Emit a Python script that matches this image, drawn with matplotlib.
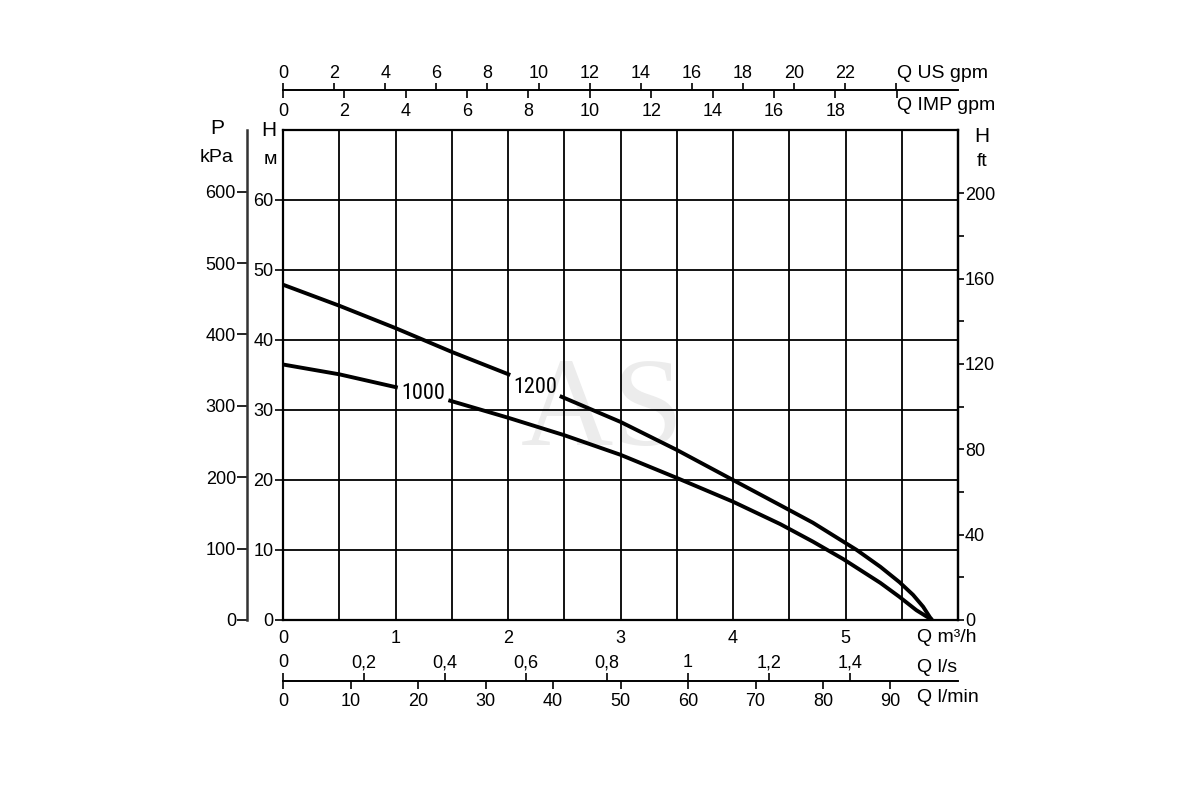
import numpy as np
import matplotlib
matplotlib.use("Agg")
import matplotlib.pyplot as plt
from matplotlib.ticker import FixedLocator, FuncFormatter

plt.rcParams['font.family'] = ['Liberation Sans', 'DejaVu Sans']

# ---------------- data ----------------
q_1200 = [0.0, 0.5, 1.0, 1.5, 2.02, np.nan, 2.46, 3.0, 3.5, 4.0, 4.42, 4.71, 4.98, 5.10, 5.31, 5.48, 5.60, 5.69, 5.75, 5.77]
h_1200 = [47.9, 44.9, 41.7, 38.3, 35.0, np.nan, 32.0, 28.3, 24.3, 20.0, 16.4, 13.9, 11.2, 10.0, 7.6, 5.4, 3.6, 1.9, 0.4, 0.0]
q_1000 = [0.0, 0.5, 1.02, np.nan, 1.47, 2.0, 2.5, 3.0, 3.5, 4.0, 4.42, 4.71, 4.98, 5.31, 5.48, 5.63, 5.77]
h_1000 = [36.5, 35.1, 33.2, np.nan, 31.4, 28.9, 26.4, 23.6, 20.3, 16.9, 13.7, 11.2, 8.7, 5.3, 3.3, 1.4, 0.0]
curve_labels = ['1000', '1200']

h_ticks = [0, 10, 20, 30, 40, 50, 60]
q_ticks = [0, 1, 2, 3, 4, 5]
q_grid = [0.5, 1.5, 2.5, 3.5, 4.5, 5.5]
kpa_ticks = [0, 100, 200, 300, 400, 500, 600]
ft_ticks = [0, 40, 80, 120, 160, 200]
ft_minor = [20, 60, 100, 140, 180]
us_gpm_ticks = [0, 2, 4, 6, 8, 10, 12, 14, 16, 18, 20, 22, 24]
us_gpm_labeled = [0, 2, 4, 6, 8, 10, 12, 14, 16, 18, 20, 22]
imp_gpm_ticks = [0, 2, 4, 6, 8, 10, 12, 14, 16, 18, 20]
imp_gpm_labeled = [0, 2, 4, 6, 8, 10, 12, 14, 16, 18]
ls_ticks = [0, 0.2, 0.4, 0.6, 0.8, 1.0, 1.2, 1.4]
lmin_ticks = [0, 10, 20, 30, 40, 50, 60, 70, 80, 90]

# unit conversions
US_GPM = 4.40287
IMP_GPM = 3.66615
LMIN = 1000.0 / 60.0
LS = 1.0 / 3.6
KPA = 9.80665
FT = 3.28084

TICK_FS = 13
UNIT_FS = 14

W, H = 1200, 800
fig = plt.figure(figsize=(12, 8), dpi=100)
L, R, T, B = 283, 958, 130, 620
ax = fig.add_axes([L / W, 1 - B / H, (R - L) / W, (B - T) / H])
ax.set_xlim(0, 6)
ax.set_ylim(0, 70)

for s in ax.spines.values():
    s.set_linewidth(1.6)
    s.set_color('black')

ax.set_xticks(q_ticks)
ax.set_xticks(q_grid, minor=True)
ax.set_yticks(h_ticks)
ax.grid(which='both', color='black', linewidth=1.3)
ax.set_axisbelow(True)
ax.tick_params(axis='x', which='both', length=0, pad=7, labelsize=TICK_FS)
ax.tick_params(axis='y', which='major', direction='out', length=6, width=1.2, pad=1, labelsize=TICK_FS)

# curves
ax.plot(q_1200, h_1200, color='black', linewidth=2.8, solid_capstyle='butt', solid_joinstyle='round', zorder=3)
ax.plot(q_1000, h_1000, color='black', linewidth=2.8, solid_capstyle='butt', solid_joinstyle='round', zorder=3)
lab_font = ['Roboto Condensed', 'Liberation Sans Narrow', 'DejaVu Sans Condensed', 'Liberation Sans']
ax.text(1.244, 31.6, curve_labels[0], fontsize=16, family=lab_font, ha='center', va='baseline', zorder=4)
ax.text(2.24, 32.4, curve_labels[1], fontsize=16, family=lab_font, ha='center', va='baseline', zorder=4)

# watermark
ax.text(2.84, 25.0, 'AS', fontsize=92, family=['Liberation Serif', 'DejaVu Serif'],
        color='#ececec', ha='center', va='baseline', zorder=0.2)

# right axis: feet
sec_ft = ax.secondary_yaxis('right', functions=(lambda m: m * FT, lambda f: f / FT))
sec_ft.yaxis.set_major_locator(FixedLocator(ft_ticks))
sec_ft.yaxis.set_minor_locator(FixedLocator(ft_minor))
sec_ft.tick_params(which='both', direction='out', length=4, width=1.2, pad=1, labelsize=TICK_FS)
sec_ft.spines['right'].set_linewidth(1.6)

# left outer axis: kPa
sec_p = ax.secondary_yaxis(-36 / (R - L), functions=(lambda m: m * KPA, lambda p: p / KPA))
sec_p.yaxis.set_major_locator(FixedLocator(kpa_ticks))
sec_p.tick_params(direction='out', length=7, width=1.2, pad=1, labelsize=TICK_FS)
sec_p.spines['left'].set_linewidth(1.8)
sec_p.spines['left'].set_color('#333333')

# top axes: US gpm (above) and IMP gpm (below)
top_loc = (B - 90) / (B - T)
sec_us = ax.secondary_xaxis(top_loc, functions=(lambda q: q * US_GPM, lambda g: g / US_GPM))
sec_us.xaxis.set_major_locator(FixedLocator(us_gpm_ticks))
sec_us.xaxis.set_major_formatter(FuncFormatter(lambda v, p: f"{v:.0f}" if round(v) in us_gpm_labeled else ""))
sec_us.tick_params(direction='out', length=5, width=1.2, pad=1, labelsize=TICK_FS)
for s in sec_us.spines.values():
    s.set_linewidth(1.2)

sec_imp = ax.secondary_xaxis(top_loc, functions=(lambda q: q * IMP_GPM, lambda g: g / IMP_GPM))
sec_imp.set_alignment('bottom')
sec_imp.xaxis.set_major_locator(FixedLocator(imp_gpm_ticks))
sec_imp.xaxis.set_major_formatter(FuncFormatter(lambda v, p: f"{v:.0f}" if round(v) in imp_gpm_labeled else ""))
sec_imp.tick_params(direction='out', length=6, width=1.2, pad=3, labelsize=TICK_FS)
for s in sec_imp.spines.values():
    s.set_linewidth(1.2)

# bottom axes: l/s (above) and l/min (below)
bot_loc = (B - 681) / (B - T)
def fmt_comma(v, p):
    s = f"{v:.1f}"
    if s.endswith('.0'):
        s = s[:-2]
    return s.replace('.', ',')

sec_ls = ax.secondary_xaxis(bot_loc, functions=(lambda q: q * LS, lambda l: l / LS))
sec_ls.set_alignment('top')
sec_ls.xaxis.set_major_locator(FixedLocator(ls_ticks))
sec_ls.xaxis.set_major_formatter(FuncFormatter(fmt_comma))
sec_ls.tick_params(direction='out', length=6, width=1.2, pad=1, labelsize=TICK_FS)
for s in sec_ls.spines.values():
    s.set_linewidth(1.2)

sec_lm = ax.secondary_xaxis(bot_loc, functions=(lambda q: q * LMIN, lambda l: l / LMIN))
sec_lm.set_alignment('bottom')
sec_lm.xaxis.set_major_locator(FixedLocator(lmin_ticks))
sec_lm.tick_params(direction='out', length=6, width=1.2, pad=3, labelsize=TICK_FS)
for s in sec_lm.spines.values():
    s.set_linewidth(1.2)

# unit labels
def ftext(px, py, s, **kw):
    fig.text(px / W, 1 - py / H, s, **kw)

ftext(217, 128, 'P', fontsize=15, ha='center', va='center')
ftext(217, 157, 'kPa', fontsize=14, ha='center', va='center')
ftext(269, 130, 'H', fontsize=15, ha='center', va='center')
ftext(270, 160, 'м', fontsize=14, ha='center', va='center')
ftext(982, 137, 'H', fontsize=15, ha='center', va='center')
ftext(982, 162, 'ft', fontsize=14, ha='center', va='center')
ftext(897, 74, 'Q US gpm', fontsize=UNIT_FS, ha='left', va='center')
ftext(897, 106, 'Q IMP gpm', fontsize=UNIT_FS, ha='left', va='center')
ftext(917, 637, 'Q m³/h', fontsize=UNIT_FS, ha='left', va='center')
ftext(917, 667, 'Q l/s', fontsize=UNIT_FS, ha='left', va='center')
ftext(917, 698, 'Q l/min', fontsize=UNIT_FS, ha='left', va='center')

fig.savefig('out.png', dpi=100, facecolor='white')
